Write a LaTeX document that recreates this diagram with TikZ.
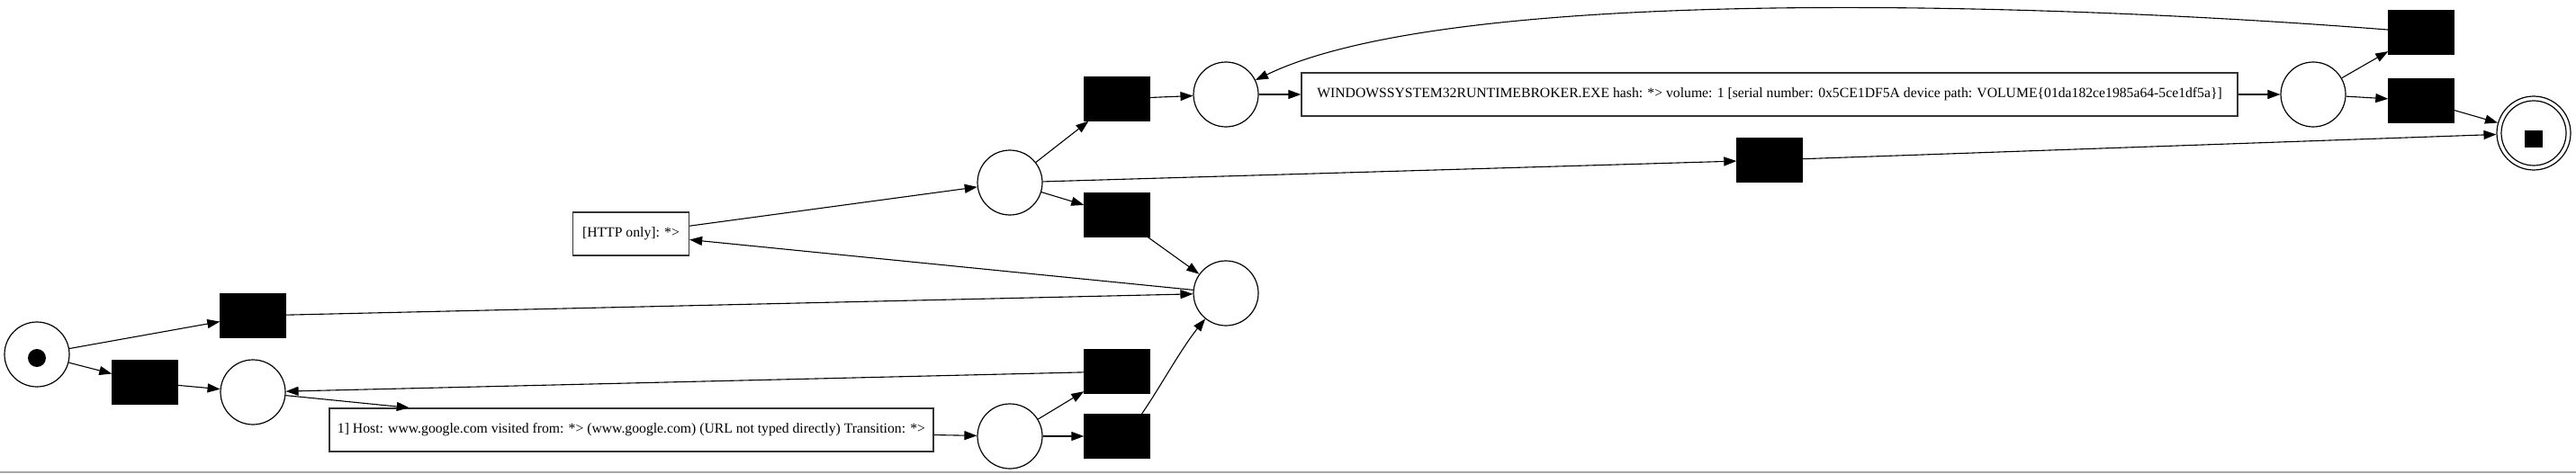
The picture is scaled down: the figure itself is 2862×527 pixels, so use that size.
\documentclass[tikz,border=0pt]{standalone}
\usepackage{fontspec}
\setmainfont{Liberation Serif}
\usepackage{tikz}
\usetikzlibrary{arrows.meta}
\tikzstyle{place} = [circle, draw=black, line width=1.2pt, minimum size=72pt, inner sep=0pt]
\tikzstyle{trans} = [rectangle, draw=black, fill=black, minimum width=73pt, minimum height=49pt, inner sep=0pt]
\tikzstyle{event} = [rectangle, draw=black!80, line width=1.3pt, minimum height=48pt, inner sep=0pt, text centered, font=\fontsize{15.7}{18}\selectfont]
\tikzstyle{arrow} = [line width=1.1pt, -{Triangle[length=14pt,width=10pt]}]

\begin{document}
\begin{tikzpicture}[x=1pt, y=-1pt]
	\useasboundingbox (0,0) rectangle (2862,527);
	\draw [gray!70, line width=2pt] (0,525) -- (2862,525);

	\node (src) [place] at (41,394) {};
	\node (srctok) [circle, fill=black, minimum size=20pt, inner sep=0pt] at (41,398) {};
	\node (tA) [trans] at (281,351) {};
	\node (tB) [trans] at (161,425) {};
	\node (p2) [place] at (281,436) {};
	\node (host) [event, minimum width=671pt] at (701.5,478) {1] Host: www.google.com visited from: *> (www.google.com) (URL not typed directly) Transition: *>};
	\node (p3) [place] at (1122,485) {};
	\node (tC) [trans] at (1241,413) {};
	\node (tD) [trans] at (1241,485) {};
	\node (p4) [place] at (1362,326) {};
	\node (http) [event, minimum width=129pt] at (701,260) {[HTTP only]: *>};
	\node (p5) [place] at (1122,203) {};
	\node (tE) [trans] at (1241,110) {};
	\node (tF) [trans] at (1241,239) {};
	\node (p6) [place] at (1362,105) {};
	\node (win) [event, minimum width=1040pt] at (1966,105) {WINDOWSSYSTEM32RUNTIMEBROKER.EXE hash: *> volume: 1 [serial number: 0x5CE1DF5A device path: VOLUME\{01da182ce1985a64-5ce1df5a\}]};
	\node (p7) [place] at (2570,105) {};
	\node (tG) [trans] at (2690,36) {};
	\node (tH) [trans] at (2690,112) {};
	\node (tI) [trans] at (1966,178) {};
	\node (final) [place, minimum size=82pt] at (2815,148) {};
	\node (finalin) [place] at (2815,148) {};
	\node (endtok) [rectangle, fill=black, minimum width=20pt, minimum height=19pt, inner sep=0pt] at (2815,154) {};

	\draw [arrow] (src) -- (tA);
	\draw [arrow] (src) -- (tB);
	\draw [arrow] (tB) -- (p2);
	\draw [arrow] (tA) -- (p4);
	\draw [arrow] (p2) -- (host);
	\draw [arrow] (host) -- (p3);
	\draw [arrow] (p3) -- (tC);
	\draw [arrow] (p3) -- (tD);
	\draw [arrow] (tC) -- (p2);
	\draw [arrow] (tD.42) .. controls (1288,432) and (1312,388) .. (p4);
	\draw [arrow] (p4) -- (http);
	\draw [arrow] (http) -- (p5);
	\draw [arrow] (p5) -- (tE);
	\draw [arrow] (p5) -- (tF);
	\draw [arrow] (tF) -- (p4);
	\draw [arrow] (p5) -- (tI);
	\draw [arrow] (tI) -- (final);
	\draw [arrow] (tE) -- (p6);
	\draw [arrow] (p6) -- (win);
	\draw [arrow] (win) -- (p7);
	\draw [arrow] (p7) -- (tG);
	\draw [arrow] (p7) -- (tH);
	\draw [arrow] (tH) -- (final);
	\draw [arrow] (tG) .. controls (2300,5) and (1620,-20) .. (p6);

\end{tikzpicture}
\end{document}
